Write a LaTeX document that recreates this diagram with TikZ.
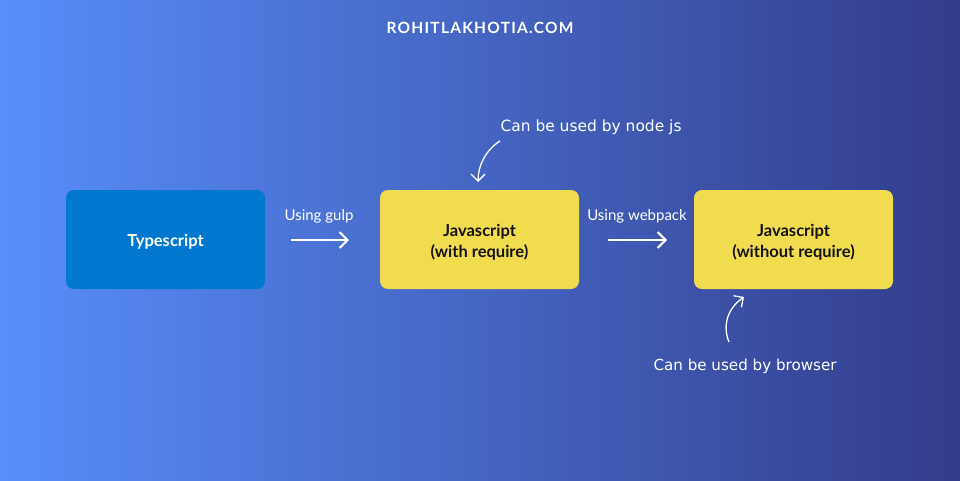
\documentclass[tikz,border=0pt]{standalone}
\usepackage{fontspec}
\setmainfont{Lato}
\newfontfamily\hand{DejaVu Sans}
\usetikzlibrary{arrows.meta}
\definecolor{bgleft}{RGB}{88,142,250}
\definecolor{bgright}{RGB}{50,60,138}
\definecolor{tsblue}{RGB}{0,120,208}
\definecolor{jsyellow}{RGB}{241,220,80}
\definecolor{ink}{RGB}{20,20,20}
\tikzset{
  box/.style={rounded corners=8pt, minimum width=199pt, minimum height=99pt, align=center, inner sep=0pt, font=\fontsize{16.5}{21}\selectfont\bfseries},
  tsbox/.style={box, fill=tsblue, text=white},
  jsbox/.style={box, fill=jsyellow, text=ink},
  flow/.style={draw=white, line width=2pt, -{Straight Barb[length=8pt,width=16pt,line width=2pt]}},
  flowlabel/.style={text=white, font=\fontsize{15}{18}\selectfont},
  note/.style={text=white, font=\hand\fontsize{14}{16}\selectfont},
  notearrow/.style={draw=white, line width=1.3pt, -{Straight Barb[length=7pt,width=14pt,line width=1.3pt]}}
}
\begin{document}
\begin{tikzpicture}[x=1pt,y=-1pt]
\shade[left color=bgleft, right color=bgright] (0,0) rectangle (960,480);
\useasboundingbox (0,0) rectangle (960,480);
\node[text=white, font=\fontsize{15.5}{18}\selectfont\bfseries\addfontfeatures{LetterSpace=8}] (title) at (480,28) {ROHITLAKHOTIA.COM};
\node[rounded corners=8pt, fill=tsblue, minimum width=199pt, minimum height=99pt] (ts) at (165.5,239.5) {};
\node[text=white, font=\fontsize{16.5}{21}\selectfont\bfseries] (tslabel) at (165.5,241.5) {Typescript};
\node[jsbox] (js1) at (479.5,239.5) {};
\node[align=center, text=ink, font=\fontsize{16.5}{21}\selectfont\bfseries] (js1label) at (479.5,242) {Javascript\\(with require)};
\node[jsbox] (js2) at (793.5,239.5) {};
\node[align=center, text=ink, font=\fontsize{16.5}{21}\selectfont\bfseries] (js2label) at (793.5,242) {Javascript\\(without require)};
\coordinate (a1s) at (291,240);
\coordinate (a1e) at (349,240);
\coordinate (a2s) at (608,240);
\coordinate (a2e) at (667,240);
\draw[flow] (a1s) -- (a1e);
\draw[flow] (a2s) -- (a2e);
\node[flowlabel] (l1) at (319,216) {Using gulp};
\node[flowlabel] (l2) at (637,216) {Using webpack};
\node[note, anchor=west] (n1) at (497,127) {\resizebox{181pt}{!}{Can be used by node js}};
\node[note, anchor=west] (n2) at (650,366) {\resizebox{183pt}{!}{Can be used by browser}};
\coordinate (c1s) at (500,141);
\coordinate (c1e) at (478,182);
\draw[notearrow] (c1s) .. controls (486,150) and (478,165) .. (c1e);
\coordinate (c2s) at (729,342);
\coordinate (c2e) at (744,297);
\draw[notearrow] (c2s) .. controls (722,325) and (728,308) .. (c2e);
\end{tikzpicture}
\end{document}
